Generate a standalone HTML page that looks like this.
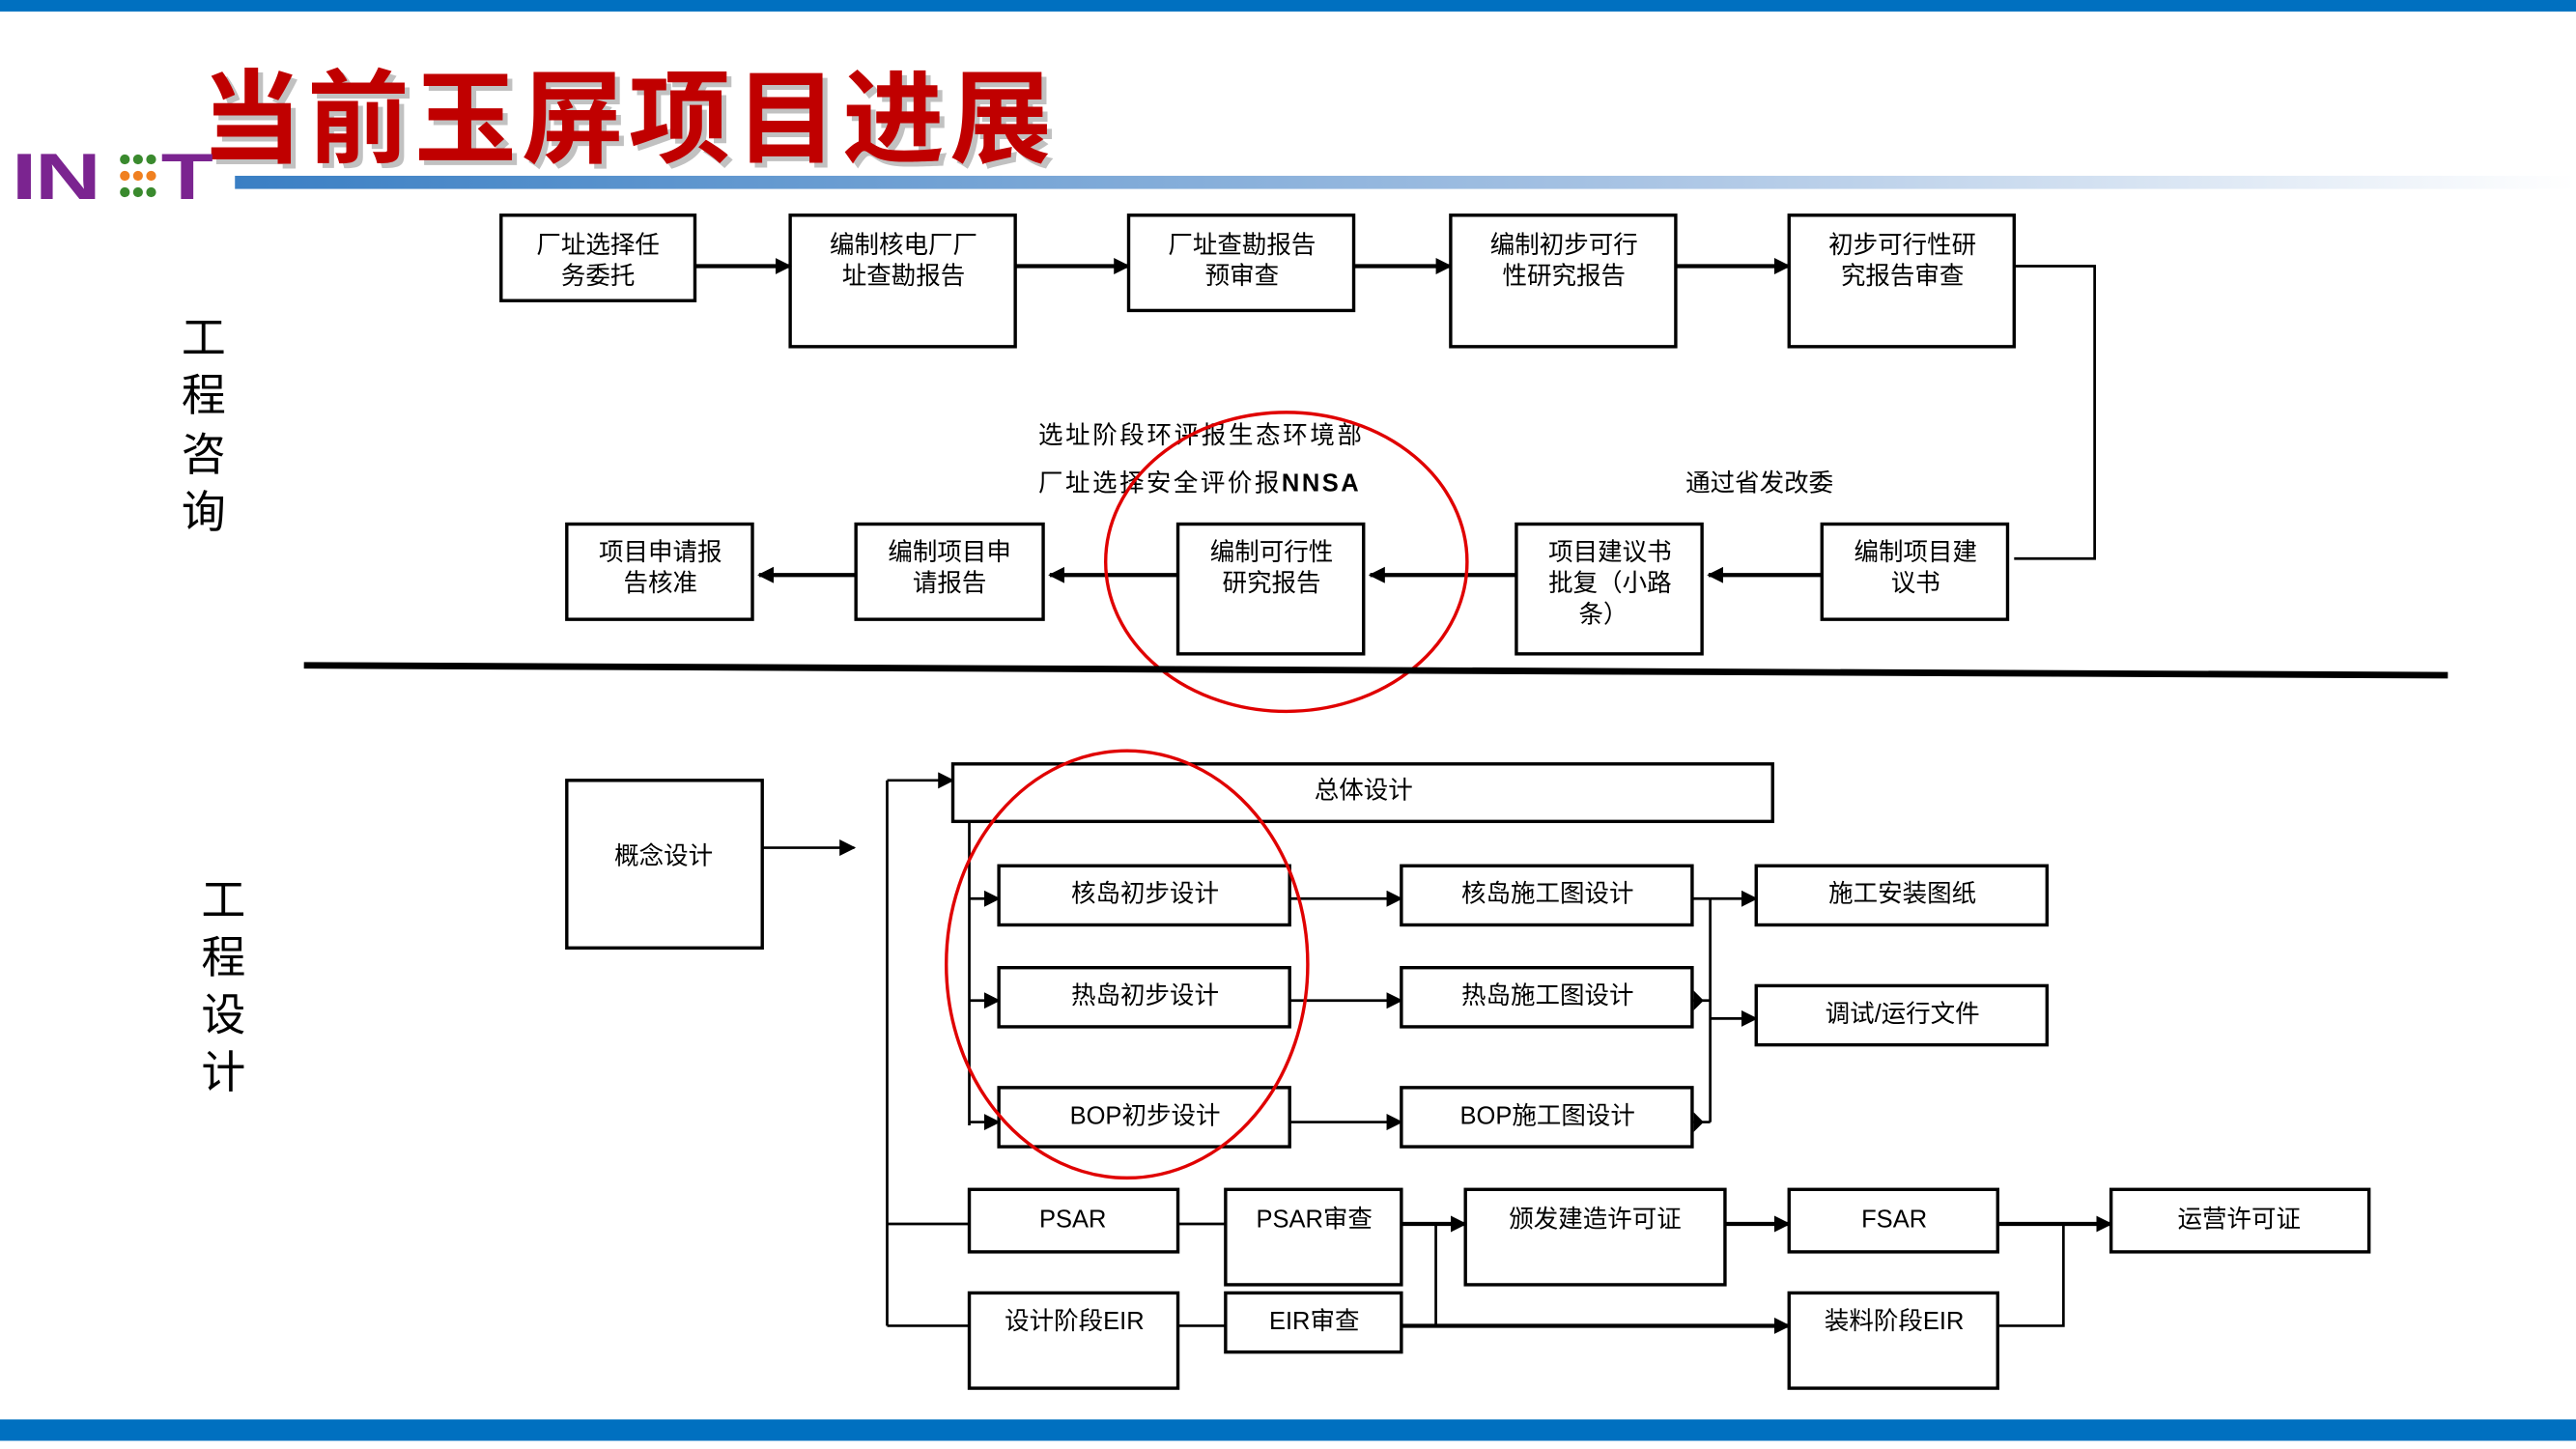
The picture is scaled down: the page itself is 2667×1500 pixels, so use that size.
<!DOCTYPE html>
<html><head><meta charset="utf-8"><style>
html,body{margin:0;padding:0;background:#fff;width:2667px;height:1500px;overflow:hidden}
svg{display:block}
text{font-family:"Liberation Sans","Noto Sans CJK SC",sans-serif}
.b{fill:#fff;stroke:#000;stroke-width:2}
.t{font-size:15px;fill:#000;text-anchor:middle}
.l{stroke:#000;stroke-width:2.5;fill:none}
.tl{stroke:#000;stroke-width:1.6;fill:none}
</style></head><body>
<svg width="2667" height="1500" viewBox="0 0 1568 882" preserveAspectRatio="none" xmlns="http://www.w3.org/2000/svg">
<defs>
<marker id="a" markerWidth="10" markerHeight="10" refX="9" refY="5" orient="auto" markerUnits="userSpaceOnUse"><path d="M0,0 L10,5 L0,10z" fill="#000"/></marker>
<linearGradient id="g" x1="0" x2="1"><stop offset="0" stop-color="#3a7fc4"/><stop offset="0.6" stop-color="#a9c4e4"/><stop offset="1" stop-color="#fff"/></linearGradient>
</defs>
<rect x="0" y="0" width="1568" height="7" fill="#0070c0"/>
<rect x="0" y="864" width="1568" height="13" fill="#0070c0"/>
<rect x="143" y="107" width="1425" height="8" fill="url(#g)"/>
<text x="122" y="94" font-size="62" font-weight="bold" fill="#999" style="font-family:'Noto Sans CJK SC',sans-serif" opacity="0.6" transform="translate(3,3)" textLength="518">当前玉屏项目进展</text>
<text x="122" y="94" font-size="62" font-weight="bold" fill="#c00000" style="font-family:'Noto Sans CJK SC',sans-serif" textLength="518">当前玉屏项目进展</text>
<!-- logo -->
<g transform="translate(7,121) scale(1.4,1)"><text x="0" y="0" font-size="40" font-weight="bold" fill="#7b2490" letter-spacing="-1">IN</text></g>
<g fill="#3a8a2e"><circle cx="76" cy="97" r="3"/><circle cx="84" cy="97" r="3"/><circle cx="92" cy="97" r="3"/><circle cx="76" cy="117" r="3"/><circle cx="84" cy="117" r="3"/><circle cx="92" cy="117" r="3"/></g>
<g fill="#f08020"><circle cx="76" cy="107" r="3"/><circle cx="84" cy="107" r="3"/><circle cx="92" cy="107" r="3"/></g>
<g transform="translate(98,121) scale(1.3,1)"><text x="0" y="0" font-size="40" font-weight="bold" fill="#7b2490">T</text></g>
<!-- side labels -->
<g font-size="27" fill="#000" text-anchor="middle">
<text x="124" y="215">工</text><text x="124" y="250">程</text><text x="124" y="286">咨</text><text x="124" y="321">询</text>
<text x="136" y="557">工</text><text x="136" y="592">程</text><text x="136" y="627">设</text><text x="136" y="662">计</text>
</g>
<!-- row1 -->
<rect class="b" x="305" y="131" width="118" height="52"/><text class="t" x="364" y="154">厂址选择任</text><text class="t" x="364" y="173">务委托</text>
<rect class="b" x="481" y="131" width="137" height="80"/><text class="t" x="550" y="154">编制核电厂厂</text><text class="t" x="550" y="173">址查勘报告</text>
<rect class="b" x="687" y="131" width="137" height="58"/><text class="t" x="756" y="154">厂址查勘报告</text><text class="t" x="756" y="173">预审查</text>
<rect class="b" x="883" y="131" width="137" height="80"/><text class="t" x="952" y="154">编制初步可行</text><text class="t" x="952" y="173">性研究报告</text>
<rect class="b" x="1089" y="131" width="137" height="80"/><text class="t" x="1158" y="154">初步可行性研</text><text class="t" x="1158" y="173">究报告审查</text>
<g class="l" marker-end="url(#a)"><line x1="423" y1="162" x2="481" y2="162"/><line x1="618" y1="162" x2="687" y2="162"/><line x1="824" y1="162" x2="883" y2="162"/><line x1="1020" y1="162" x2="1089" y2="162"/></g>
<polyline class="tl" points="1226,162 1275,162 1275,340 1226,340"/>
<!-- row2 -->
<rect class="b" x="1109" y="319" width="113" height="58"/><text class="t" x="1166" y="341">编制项目建</text><text class="t" x="1166" y="360">议书</text>
<rect class="b" x="923" y="319" width="113" height="79"/><text class="t" x="980" y="341">项目建议书</text><text class="t" x="980" y="360">批复（小路</text><text class="t" x="976" y="379">条）</text>
<rect class="b" x="717" y="319" width="113" height="79"/><text class="t" x="774" y="341">编制可行性</text><text class="t" x="774" y="360">研究报告</text>
<rect class="b" x="521" y="319" width="114" height="58"/><text class="t" x="578" y="341">编制项目申</text><text class="t" x="578" y="360">请报告</text>
<rect class="b" x="345" y="319" width="113" height="58"/><text class="t" x="402" y="341">项目申请报</text><text class="t" x="402" y="360">告核准</text>
<g class="l" marker-end="url(#a)"><line x1="1109" y1="350" x2="1040" y2="350"/><line x1="923" y1="350" x2="834" y2="350"/><line x1="717" y1="350" x2="639" y2="350"/><line x1="521" y1="350" x2="462" y2="350"/></g>
<text x="632" y="270" font-size="15" textLength="197">选址阶段环评报生态环境部</text>
<text x="632" y="299" font-size="15" textLength="195">厂址选择安全评价报<tspan font-weight="bold">NNSA</tspan></text>
<text x="1026" y="299" font-size="15">通过省发改委</text>
<ellipse cx="783" cy="342" rx="110" ry="91" fill="none" stroke="#e00000" stroke-width="2"/>
<line x1="185" y1="405" x2="1490" y2="411" stroke="#000" stroke-width="4"/>
<!-- design -->
<rect class="b" x="345" y="475" width="119" height="102"/><text class="t" x="404" y="526">概念设计</text>
<line class="tl" x1="464" y1="516" x2="520" y2="516" marker-end="url(#a)"/>
<line class="tl" x1="540" y1="475" x2="540" y2="807"/>
<line class="tl" x1="540" y1="475" x2="580" y2="475" marker-end="url(#a)"/>
<rect class="b" x="580" y="465" width="499" height="35"/><text class="t" x="830" y="486">总体设计</text>
<line class="tl" x1="590" y1="500" x2="590" y2="685"/>
<g class="tl" marker-end="url(#a)"><line x1="590" y1="547" x2="608" y2="547"/><line x1="590" y1="609" x2="608" y2="609"/><line x1="590" y1="683" x2="608" y2="683"/></g>
<rect class="b" x="608" y="527" width="177" height="36"/><text class="t" x="697" y="549">核岛初步设计</text>
<rect class="b" x="608" y="589" width="177" height="36"/><text class="t" x="697" y="611">热岛初步设计</text>
<rect class="b" x="608" y="662" width="177" height="36"/><text class="t" x="697" y="684">BOP初步设计</text>
<rect class="b" x="853" y="527" width="177" height="36"/><text class="t" x="942" y="549">核岛施工图设计</text>
<rect class="b" x="853" y="589" width="177" height="36"/><text class="t" x="942" y="611">热岛施工图设计</text>
<rect class="b" x="853" y="662" width="177" height="36"/><text class="t" x="942" y="684">BOP施工图设计</text>
<g class="tl" marker-end="url(#a)"><line x1="785" y1="547" x2="853" y2="547"/><line x1="785" y1="609" x2="853" y2="609"/><line x1="785" y1="683" x2="853" y2="683"/></g>
<line class="tl" x1="1041" y1="547" x2="1041" y2="683"/>
<g class="tl"><line x1="1030" y1="547" x2="1041" y2="547"/><line x1="1041" y1="609" x2="1031" y2="609" /><line x1="1041" y1="683" x2="1031" y2="683"/></g>
<path d="M1031,603 L1037,609 L1031,615z M1031,677 L1037,683 L1031,689z" fill="#000"/>
<g class="tl" marker-end="url(#a)"><line x1="1041" y1="547" x2="1069" y2="547"/><line x1="1041" y1="620" x2="1069" y2="620"/></g>
<rect class="b" x="1069" y="527" width="177" height="36"/><text class="t" x="1158" y="549">施工安装图纸</text>
<rect class="b" x="1069" y="600" width="177" height="36"/><text class="t" x="1158" y="622">调试/运行文件</text>
<ellipse cx="686" cy="587" rx="110" ry="130" fill="none" stroke="#e00000" stroke-width="2"/>
<!-- PSAR -->
<line class="tl" x1="540" y1="745" x2="590" y2="745"/>
<line class="tl" x1="540" y1="807" x2="590" y2="807"/>
<rect class="b" x="590" y="724" width="127" height="38"/><text class="t" x="653" y="747">PSAR</text>
<rect class="b" x="746" y="724" width="107" height="58"/><text class="t" x="800" y="747">PSAR审查</text>
<rect class="b" x="892" y="724" width="158" height="58"/><text class="t" x="971" y="747">颁发建造许可证</text>
<rect class="b" x="1089" y="724" width="127" height="38"/><text class="t" x="1153" y="747">FSAR</text>
<rect class="b" x="1285" y="724" width="157" height="38"/><text class="t" x="1363" y="747">运营许可证</text>
<rect class="b" x="590" y="787" width="127" height="58"/><text class="t" x="654" y="809">设计阶段EIR</text>
<rect class="b" x="746" y="787" width="107" height="36"/><text class="t" x="800" y="809">EIR审查</text>
<rect class="b" x="1089" y="787" width="127" height="58"/><text class="t" x="1153" y="809">装料阶段EIR</text>
<line class="tl" x1="717" y1="745" x2="746" y2="745"/>
<line class="tl" x1="717" y1="807" x2="746" y2="807"/>
<g class="l" marker-end="url(#a)"><line x1="853" y1="745" x2="892" y2="745"/><line x1="1050" y1="745" x2="1089" y2="745"/><line x1="1216" y1="745" x2="1285" y2="745"/><line x1="853" y1="807" x2="1089" y2="807"/></g>
<line class="tl" x1="874" y1="745" x2="874" y2="807"/>
<polyline class="tl" points="1216,807 1256,807 1256,745"/>
</svg>
</body></html>
